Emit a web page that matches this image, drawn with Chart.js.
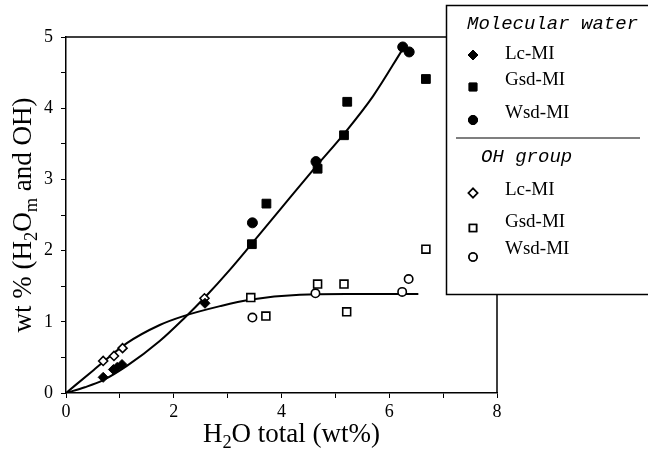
<!DOCTYPE html>
<html>
<head>
<meta charset="utf-8">
<script src="https://cdn.jsdelivr.net/npm/chart.js@4.4.0/dist/chart.umd.min.js"></script>
<style>
  body { margin: 0; background: #fff; }
  canvas { display: block; }
</style>
</head>
<body>
<canvas id="waterChart" width="648" height="454"></canvas>
<script>
// molecular water, filled symbols
const lcMolX = [0.69, 0.88, 0.95, 1.04, 2.58];
const lcMolY = [0.22, 0.33, 0.36, 0.40, 1.26];
const gsdMolX = [3.45, 3.72, 4.67, 5.16, 5.22, 6.68];
const gsdMolY = [2.09, 2.66, 3.15, 3.62, 4.09, 4.41];
const wsdMolX = [3.46, 4.64, 6.25, 6.37];
const wsdMolY = [2.39, 3.25, 4.86, 4.79];

// OH group, open symbols
const lcOhX = [0.69, 0.89, 1.05, 2.57];
const lcOhY = [0.45, 0.52, 0.63, 1.33];
const gsdOhX = [3.43, 3.71, 4.67, 5.16, 5.21, 6.68];
const gsdOhY = [1.34, 1.08, 1.53, 1.53, 1.14, 2.02];
const wsdOhX = [3.46, 4.63, 6.24, 6.36];
const wsdOhY = [1.06, 1.40, 1.42, 1.60];

// fitted curves
const molCurveX = [0, 0.35, 0.69, 1.13, 1.74, 2.18, 2.61, 3.04, 3.43, 4.0, 4.65, 5.16, 5.7, 6.25];
const molCurveY = [0, 0.08, 0.18, 0.38, 0.73, 1.04, 1.37, 1.73, 2.08, 2.60, 3.19, 3.64, 4.17, 4.83];
const ohCurveX = [0, 0.51, 1.13, 1.74, 2.18, 2.86, 3.41, 4.34, 5.2, 6.54];
const ohCurveY = [0, 0.32, 0.70, 0.955, 1.08, 1.22, 1.31, 1.38, 1.39, 1.39];

const xTicksLabelled = [0, 2, 4, 6, 8];
const yTicksLabelled = [0, 1, 2, 3, 4, 5];

const pts = (xs, ys) => xs.map((x, i) => ({ x: x, y: ys[i] }));

const serif = "'Liberation Serif', 'Times New Roman', serif";
const mono = "'Liberation Mono', 'Courier New', monospace";

function marker(data, style, filled, radius) {
  return {
    data: data,
    showLine: false,
    pointStyle: style,
    pointRadius: radius,
    backgroundColor: filled ? '#000' : '#fff',
    borderColor: '#000',
    borderWidth: filled ? 1 : 1.6,
    order: 0
  };
}

function curve(data) {
  return {
    data: data,
    showLine: true,
    pointRadius: 0,
    borderColor: '#000',
    borderWidth: 2,
    cubicInterpolationMode: 'monotone',
    order: 10
  };
}

// draws text runs with subscripts, starting at x,y (baseline)
function drawRuns(ctx, runs, x, y, size) {
  let cx = x;
  runs.forEach(r => {
    const s = r.sub ? size * 0.68 : size;
    ctx.font = s + 'px ' + serif;
    ctx.fillText(r.t, cx, r.sub ? y + size * 0.22 : y);
    cx += ctx.measureText(r.t).width;
  });
}
function runsWidth(ctx, runs, size) {
  let w = 0;
  runs.forEach(r => {
    ctx.font = (r.sub ? size * 0.68 : size) + 'px ' + serif;
    w += ctx.measureText(r.t).width;
  });
  return w;
}

const xTitle = [{ t: 'H' }, { t: '2', sub: true }, { t: 'O total (wt%)' }];
const yTitle = [{ t: 'wt % (H' }, { t: '2', sub: true }, { t: 'O' }, { t: 'm', sub: true }, { t: ' and OH)' }];

const legendRows = [
  { head: 'Molecular water', x: 467, y: 24 },
  { label: 'Lc-MI', style: 'rectRot', filled: true, y: 54, my: 55, r: 5 },
  { label: 'Gsd-MI', style: 'rect', filled: true, y: 80, my: 87, r: 5.5 },
  { label: 'Wsd-MI', style: 'circle', filled: true, y: 113, my: 120, r: 4.5 },
  { line: 138 },
  { head: 'OH group', x: 481, y: 157 },
  { label: 'Lc-MI', style: 'rectRot', filled: false, y: 190, my: 193, r: 4.5 },
  { label: 'Gsd-MI', style: 'rect', filled: false, y: 222, my: 228, r: 5 },
  { label: 'Wsd-MI', style: 'circle', filled: false, y: 249, my: 257, r: 4 }
];

const decor = {
  id: 'decor',
  afterDatasetsDraw(chart) {
    const ctx = chart.ctx;
    const a = chart.chartArea;
    ctx.save();
    ctx.strokeStyle = '#000';
    ctx.lineWidth = 1.5;
    ctx.beginPath();
    ctx.moveTo(a.left, a.top);
    ctx.lineTo(a.right, a.top);
    ctx.lineTo(a.right, a.bottom);
    ctx.stroke();
    ctx.restore();
  },
  afterDraw(chart) {
    const ctx = chart.ctx;
    const a = chart.chartArea;
    ctx.save();
    ctx.fillStyle = '#000';
    ctx.textBaseline = 'alphabetic';
    ctx.textAlign = 'left';

    // axis titles
    const fs = 27;
    const xw = runsWidth(ctx, xTitle, fs);
    drawRuns(ctx, xTitle, (a.left + a.right) / 2 - xw / 2 + 10, 442, fs);
    const yw = runsWidth(ctx, yTitle, fs);
    ctx.save();
    ctx.translate(31, (a.top + a.bottom) / 2);
    ctx.rotate(-Math.PI / 2);
    drawRuns(ctx, yTitle, -yw / 2, 0, fs);
    ctx.restore();

    // legend box
    ctx.fillStyle = '#fff';
    ctx.fillRect(446, 5, 210, 290);
    ctx.strokeStyle = '#000';
    ctx.lineWidth = 1.5;
    ctx.strokeRect(446.5, 5.5, 210, 289);
    ctx.fillStyle = '#000';
    legendRows.forEach(r => {
      if (r.line) {
        ctx.lineWidth = 1.2;
        ctx.beginPath();
        ctx.moveTo(456, r.line);
        ctx.lineTo(640, r.line);
        ctx.stroke();
      } else if (r.head) {
        ctx.font = 'italic 19px ' + mono;
        ctx.textBaseline = 'middle';
        ctx.fillText(r.head, r.x, r.y);
      } else {
        ctx.font = '19px ' + serif;
        ctx.textBaseline = 'middle';
        ctx.fillText(r.label, 505, r.y);
        ctx.fillStyle = r.filled ? '#000' : '#fff';
        ctx.lineWidth = r.filled ? 1 : 1.6;
        Chart.helpers.drawPoint(ctx, { pointStyle: r.style, radius: r.r, borderWidth: ctx.lineWidth }, 473, r.my);
        ctx.fill();
        ctx.stroke();
        ctx.fillStyle = '#000';
      }
    });
    ctx.restore();
  }
};

new Chart(
  document.getElementById('waterChart'),
  {
    type: 'scatter',
    data: {
      datasets: [
        marker(pts(lcMolX, lcMolY), 'rectRot', true, 5),
        marker(pts(gsdMolX, gsdMolY), 'rect', true, 6.2),
        marker(pts(wsdMolX, wsdMolY), 'circle', true, 5),
        marker(pts(lcOhX, lcOhY), 'rectRot', false, 4.5),
        marker(pts(gsdOhX, gsdOhY), 'rect', false, 5.6),
        marker(pts(wsdOhX, wsdOhY), 'circle', false, 4.2),
        curve(pts(molCurveX, molCurveY)),
        curve(pts(ohCurveX, ohCurveY))
      ]
    },
    options: {
      responsive: false,
      animation: false,
      layout: { padding: { top: 37, right: 151, left: 0, bottom: 0 } },
      plugins: {
        legend: { display: false },
        tooltip: { enabled: false }
      },
      scales: {
        x: {
          type: 'linear',
          min: 0,
          max: 8,
          afterFit: s => { s.height = 61; },
          ticks: {
            stepSize: 1,
            autoSkip: false,
            maxRotation: 0,
            padding: 3,
            color: '#000',
            font: { family: serif, size: 18 },
            callback: v => xTicksLabelled.includes(v) ? v : ''
          },
          grid: { drawOnChartArea: false, tickLength: 5, color: '#000' },
          border: { color: '#000', width: 1.5 }
        },
        y: {
          type: 'linear',
          min: 0,
          max: 5,
          afterFit: s => { s.width = 66; },
          ticks: {
            stepSize: 0.5,
            autoSkip: false,
            padding: 8,
            color: '#000',
            font: { family: serif, size: 18 },
            callback: v => yTicksLabelled.includes(v) ? v : ''
          },
          grid: { drawOnChartArea: false, tickLength: 5, color: '#000' },
          border: { color: '#000', width: 1.5 }
        }
      }
    },
    plugins: [decor]
  }
);
</script>
</body>
</html>
